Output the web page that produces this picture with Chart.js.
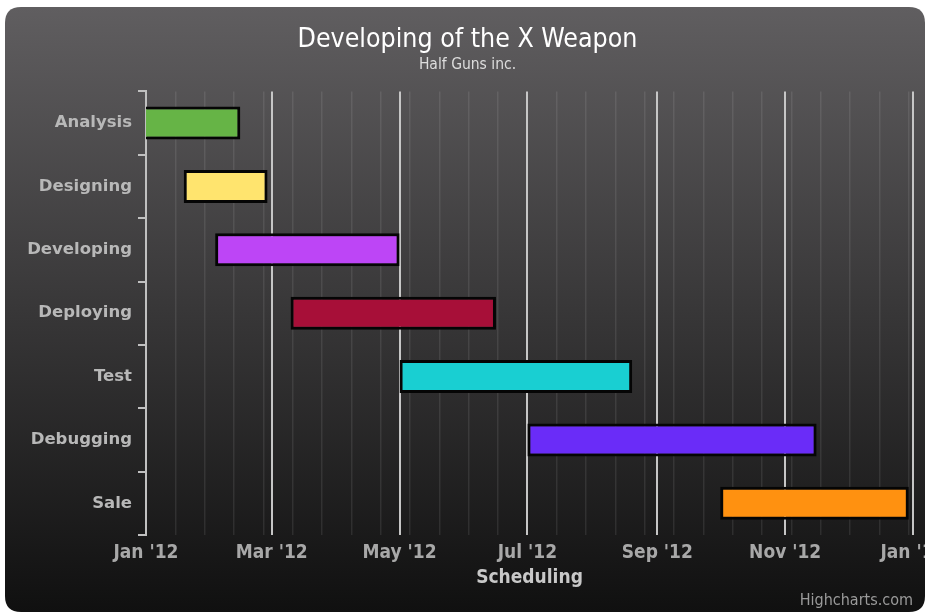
<!DOCTYPE html>
<html><head><meta charset="utf-8">
<script src="https://cdn.jsdelivr.net/npm/chart.js@4.4.1/dist/chart.umd.min.js"></script>
<style>html,body{margin:0;padding:0;background:#fff;overflow:hidden}</style>
</head><body>
<canvas id="c" width="925" height="612"></canvas>
<script>
// ---- data ----
const categories = ['Analysis', 'Designing', 'Developing', 'Deploying', 'Test', 'Debugging', 'Sale'];
const startDates = ['2011-12-25', '2012-01-19', '2012-02-03', '2012-03-10', '2012-05-01', '2012-07-01', '2012-10-01'];
const endDates   = ['2012-02-15', '2012-02-28', '2012-05-01', '2012-06-16', '2012-08-20', '2012-11-16', '2012-12-30'];
const barColors  = ['#66b446', '#ffe46e', '#bd45f6', '#a70f38', '#19cfd2', '#6a2cf8', '#ff9110'];
const axisStart = '2012-01-01';
const axisEnd = '2013-01-01';
const majorTickDates  = ['2012-01-01', '2012-03-01', '2012-05-01', '2012-07-01', '2012-09-01', '2012-11-01', '2013-01-01'];
const majorTickLabels = ["Jan '12", "Mar '12", "May '12", "Jul '12", "Sep '12", "Nov '12", "Jan '13"];
const minorStepDays = 14;
const titleText = 'Developing of the X Weapon';
const subtitleText = 'Half Guns inc.';
const xTitleText = 'Scheduling';
const creditText = 'Highcharts.com';

const DAY = 86400000;
const t = s => Date.parse(s);
const xMin = t(axisStart), xMax = t(axisEnd);
const majorVals = majorTickDates.map(t);
const labelFor = {};
majorVals.forEach((v, i) => labelFor[v] = majorTickLabels[i]);
const minorVals = [];
for (let v = xMin + minorStepDays * DAY; v < xMax; v += minorStepDays * DAY) minorVals.push(v);

const NARROW = "'DejaVu Sans Condensed', 'Liberation Sans Narrow', sans-serif";

const bgPlugin = {
  id: 'bg',
  beforeDraw(chart) {
    const ctx = chart.ctx;
    ctx.save();
    ctx.fillStyle = '#ffffff';
    ctx.fillRect(0, 0, chart.width, chart.height);
    const x = 5, y = 7, w = 920, h = 605, r = 16;
    const g = ctx.createLinearGradient(0, y, 0, y + h);
    g.addColorStop(0, 'rgb(96,94,96)');
    g.addColorStop(1, 'rgb(16,16,16)');
    ctx.fillStyle = g;
    ctx.beginPath();
    ctx.moveTo(x + r, y);
    ctx.lineTo(x + w - r, y);
    ctx.quadraticCurveTo(x + w, y, x + w, y + r);
    ctx.lineTo(x + w, y + h - r);
    ctx.quadraticCurveTo(x + w, y + h, x + w - r, y + h);
    ctx.lineTo(x + r, y + h);
    ctx.quadraticCurveTo(x, y + h, x, y + h - r);
    ctx.lineTo(x, y + r);
    ctx.quadraticCurveTo(x, y, x + r, y);
    ctx.closePath();
    ctx.fill();
    ctx.restore();
  },
  afterDraw(chart) {
    const ctx = chart.ctx;
    ctx.save();
    ctx.font = "16px " + NARROW;
    ctx.fillStyle = '#9a9a9a';
    ctx.textAlign = 'right';
    ctx.textBaseline = 'middle';
    ctx.fillText(creditText, 913, 601);
    ctx.restore();
  }
};

new Chart(document.getElementById('c'), {
  type: 'bar',
  data: {
    labels: categories,
    datasets: [{
      data: categories.map((c, i) => [t(startDates[i]), t(endDates[i])]),
      backgroundColor: barColors,
      borderColor: '#050505',
      borderWidth: 3,
      borderSkipped: false,
      barPercentage: 0.52,
      categoryPercentage: 1
    }]
  },
  options: {
    indexAxis: 'y',
    responsive: false,
    animation: false,
    devicePixelRatio: 1,
    layout: { padding: { left: 22, right: 12, top: 0, bottom: 0 } },
    plugins: {
      legend: { display: false },
      tooltip: { enabled: false },
      title: {
        display: true, text: titleText, color: '#ffffff',
        font: { family: NARROW, size: 26.5, weight: 'normal' },
        padding: { top: 24, bottom: 0 }
      },
      subtitle: {
        display: true, text: subtitleText, color: '#dddddd',
        font: { family: NARROW, size: 15.5, weight: 'normal' },
        padding: { top: 0, bottom: 17 }
      }
    },
    scales: {
      x: {
        type: 'linear',
        position: 'bottom',
        min: xMin, max: xMax,
        afterBuildTicks(scale) {
          const all = majorVals.map(v => ({ value: v, major: true }))
            .concat(minorVals.filter(v => !majorVals.includes(v)).map(v => ({ value: v, major: false })));
          all.sort((a, b) => a.value - b.value);
          scale.ticks = all;
        },
        afterFit(scale) {
          scale.height = 77;
          scale.paddingLeft = 0;
          scale.paddingRight = 0;
        },
        grid: {
          drawTicks: false,
          color: ctx => (ctx.tick && ctx.tick.major) ? '#c6c6c6' : 'rgba(255,255,255,0.09)',
          lineWidth: ctx => (ctx.tick && ctx.tick.major) ? 2 : 1.5
        },
        border: { display: false },
        ticks: {
          autoSkip: false, maxRotation: 0, minRotation: 0,
          padding: 7,
          color: '#a8a8a8',
          font: { family: NARROW, size: 19, weight: 'bold' },
          callback(value) { return labelFor[value] !== undefined ? labelFor[value] : ''; }
        },
        title: {
          display: true, text: xTitleText, color: '#c8c8c8',
          font: { family: NARROW, size: 19, weight: 'bold' },
          padding: { top: 0, bottom: 23 }
        }
      },
      y: {
        type: 'category',
        position: 'left',
        offset: true,
        afterFit(scale) {
          scale.width = 124;
          scale.paddingTop = 0;
          scale.paddingBottom = 0;
        },
        grid: {
          offset: true,
          drawOnChartArea: false,
          drawTicks: true,
          tickLength: 8,
          color: '#c0c0c0',
          lineWidth: 2
        },
        border: { display: true, color: '#c0c0c0', width: 2 },
        ticks: {
          padding: 6,
          color: '#b8b8b8',
          font: { family: "'DejaVu Sans', sans-serif", size: 16.5, weight: 'bold' }
        }
      }
    }
  },
  plugins: [bgPlugin]
});
</script>
</body></html>
